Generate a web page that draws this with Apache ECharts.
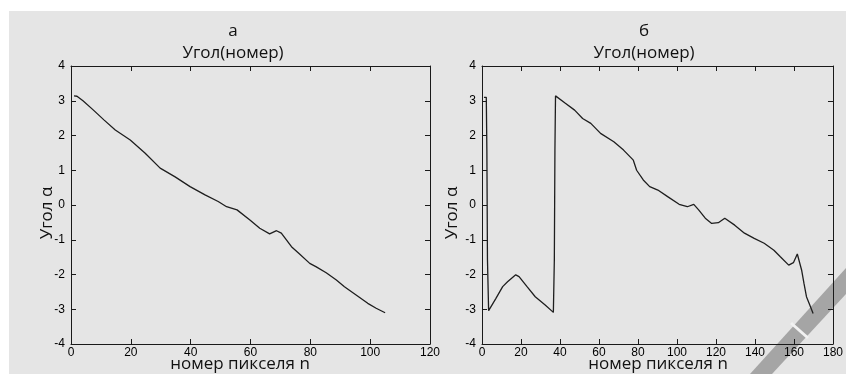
<!DOCTYPE html>
<html>
<head>
<meta charset="utf-8">
<script src="https://cdn.jsdelivr.net/npm/echarts@6/dist/echarts.min.js"></script>
<style>
  html, body { margin: 0; padding: 0; background: #fff; }
  #back { position: absolute; left: 9px; top: 11px; width: 837px; height: 363px; background: #e5e5e5; }
  #chart { position: absolute; left: 0; top: 0; width: 846px; height: 374px; }
</style>
</head>
<body>
<div id="back"></div>
<div id="chart"></div>
<script>
// panel а
const pixelA = [1, 2, 4, 7.5, 11, 14.8, 19.8, 24.8, 29.8, 34.8, 39.8, 44.8, 49.2, 52, 55.5, 59.8, 63.1, 66.4, 68.7, 70.3,
  73.7, 76.4, 79.8, 82, 85.3, 88.7, 91.4, 95.3, 99.2, 102, 105];
const angleA = [3.14, 3.13, 3.0, 2.73, 2.45, 2.16, 1.87, 1.49, 1.06, 0.81, 0.53, 0.29, 0.1, -0.05, -0.14, -0.43, -0.67, -0.83, -0.74, -0.81,
  -1.2, -1.41, -1.68, -1.78, -1.95, -2.16, -2.35, -2.59, -2.83, -2.97, -3.1];

// panel б
const pixelB = [1, 2.2, 2.5, 2.8, 3.4, 7, 10.6, 13.1, 17.3, 19, 23.1, 27.3, 32.4, 36.6, 37.1, 37.4, 37.7,
  42.4, 47.5, 51.6, 55.8, 60.8, 67.6, 72.6, 77.6, 79.3, 82.7, 86, 90.2, 95.2, 101.1, 105.3, 108.6, 111.1, 114.5,
  117.8, 121.2, 124.5, 129.6, 134.6, 139.6, 144.7, 149.7, 153, 157.3, 159.7, 161.7, 162.7, 163.9, 165.1, 166.4, 168.1, 169.8];
const angleB = [3.1, 3.1, 1.57, -1.57, -3.04, -2.7, -2.35, -2.21, -2.01, -2.06, -2.35, -2.64, -2.88, -3.09, -1.57, 1.57, 3.14,
  2.94, 2.73, 2.49, 2.35, 2.06, 1.82, 1.58, 1.29, 1.0, 0.72, 0.53, 0.43, 0.24, 0.02, -0.05, 0.02, -0.14, -0.38,
  -0.53, -0.51, -0.38, -0.58, -0.81, -0.96, -1.1, -1.3, -1.49, -1.73, -1.66, -1.41, -1.44, -1.87, -2.25, -2.64, -2.88, -3.12];

const panelTitles = ['а', 'б'];
const chartTitle = 'Угол(номер)';
const xName = 'номер пикселя n';
const yName = 'Угол α';

const tickFont = { fontFamily: 'Liberation Sans', fontSize: 12, color: '#000' };
const lineCol = '#1a1a1a';

function xAx(gi, max, pos) {
  return {
    type: 'value', gridIndex: gi, min: 0, max: max, interval: 20, position: pos,
    axisLine: { show: true, onZero: false, lineStyle: { color: lineCol, width: 1 } },
    axisTick: { show: true, inside: true, length: 5, lineStyle: { color: lineCol } },
    axisLabel: pos === 'bottom' ? Object.assign({ margin: 3 }, tickFont) : { show: false },
    splitLine: { show: false }
  };
}
function yAx(gi, pos) {
  return {
    type: 'value', gridIndex: gi, min: -4, max: 4, interval: 1, position: pos,
    axisLine: { show: true, onZero: false, lineStyle: { color: lineCol, width: 1 } },
    axisTick: { show: true, inside: true, length: 5, lineStyle: { color: lineCol } },
    axisLabel: pos === 'left' ? Object.assign({ margin: 6 }, tickFont) : { show: false },
    splitLine: { show: false }
  };
}

const titleFont = 'Open Sans';
function txt(x, y, s, size, rot) {
  return {
    type: 'text', x: x, y: y, rotation: rot || 0, z: 10,
    style: { text: s, fill: '#111', font: size + 'px "' + titleFont + '"', textAlign: 'center', textVerticalAlign: 'middle' }
  };
}

const chart = echarts.init(document.getElementById('chart'));
chart.setOption({
  animation: false,
  backgroundColor: 'transparent',
  grid: [
    { left: 71, right: 416, top: 66, bottom: 30 },
    { left: 482, right: 6, top: 66, bottom: 30 }
  ],
  xAxis: [xAx(0, 120, 'bottom'), xAx(0, 120, 'top'), xAx(1, 180, 'bottom'), xAx(1, 180, 'top')],
  yAxis: [yAx(0, 'left'), yAx(0, 'right'), yAx(1, 'left'), yAx(1, 'right')],
  series: [
    {
      type: 'line', xAxisIndex: 0, yAxisIndex: 0, showSymbol: false, z: 5,
      lineStyle: { color: '#1e1e1e', width: 1.3 },
      data: pixelA.map((x, i) => [x, angleA[i]])
    },
    {
      type: 'line', xAxisIndex: 2, yAxisIndex: 2, showSymbol: false, z: 5,
      lineStyle: { color: '#1e1e1e', width: 1.3 },
      data: pixelB.map((x, i) => [x, angleB[i]])
    }
  ],
  graphic: [
    txt(233, 31, panelTitles[0], 17),
    txt(233, 53, chartTitle, 17),
    txt(644, 31, panelTitles[1], 17),
    txt(644, 53, chartTitle, 17),
    txt(240, 364, xName, 17),
    txt(658, 364, xName, 17),
    txt(47, 213, yName, 17, Math.PI / 2),
    txt(452, 213, yName, 17, Math.PI / 2),
    // watermark stripe, kept under the curve and axes
    {
      type: 'polygon', z: -1,
      shape: { points: [[750, 374], [772, 374], [846, 294], [846, 268]] },
      style: { fill: '#a5a5a5' }
    },
    {
      type: 'line', z: -1,
      shape: { x1: 791, y1: 323, x2: 808, y2: 338 },
      style: { stroke: '#f2f2f2', lineWidth: 3 }
    }
  ]
});
</script>
</body>
</html>
